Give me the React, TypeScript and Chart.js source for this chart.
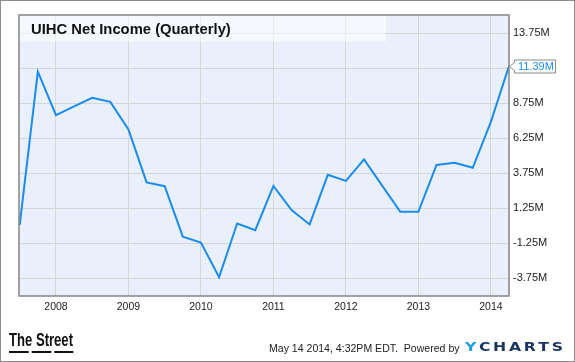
import React, { useEffect, useRef } from 'react';
import { Chart, registerables } from 'chart.js';

Chart.register(...registerables);

// ---- data ----
const quarterEnds = [
  2007.5, 2007.75, 2008.0, 2008.25, 2008.5, 2008.75, 2009.0, 2009.25, 2009.5, 2009.75,
  2010.0, 2010.25, 2010.5, 2010.75, 2011.0, 2011.25, 2011.5, 2011.75, 2012.0, 2012.25,
  2012.5, 2012.75, 2013.0, 2013.25, 2013.5, 2013.75, 2014.0, 2014.25,
];
const netIncomeM = [
  0.05, 11.0, 7.89, 8.51, 9.13, 8.84, 6.87, 3.09, 2.82, -0.78,
  -1.2, -3.68, 0.16, -0.32, 2.84, 1.11, 0.09, 3.63, 3.2, 4.73,
  2.86, 0.99, 0.99, 4.34, 4.49, 4.13, 7.41, 11.39,
];
const yearTicks = [2008, 2009, 2010, 2011, 2012, 2013, 2014];
const yearLabels = ['2008', '2009', '2010', '2011', '2012', '2013', '2014'];
const yTickValues = [-3.75, -1.25, 1.25, 3.75, 6.25, 8.75, 11.25, 13.75];
const yTickLabels = ['-3.75M', '-1.25M', '1.25M', '3.75M', '6.25M', '8.75M', '', '13.75M'];
const chartTitle = 'UIHC Net Income (Quarterly)';
const lastValueLabel = '11.39M';
const sourceText = 'The Street';
const footerText = 'May 14 2014, 4:32PM EDT.  Powered by';
const brandFirst = 'Y';
const brandRest = 'CHARTS';

const W = 575;
const H = 362;
const LINE_COLOR = '#1a8cf0';
const FONT = '"Liberation Sans", Arial, sans-serif';

const decorPlugin = {
  id: 'decor',
  beforeDraw(chart: any) {
    const { ctx, chartArea: a } = chart;
    ctx.save();
    ctx.fillStyle = '#ffffff';
    ctx.fillRect(0, 0, W, H);
    ctx.fillStyle = '#e9f0fb';
    ctx.fillRect(a.left, a.top, a.right - a.left, a.bottom - a.top);
    ctx.restore();
  },
  beforeDatasetsDraw(chart: any) {
    const { ctx, chartArea: a } = chart;
    ctx.save();
    // title backdrop
    ctx.fillStyle = 'rgba(255,255,255,0.55)';
    ctx.fillRect(a.left, a.top, 386 - a.left, 41.7 - a.top);
    ctx.fillStyle = '#111111';
    ctx.font = `bold 14.8px ${FONT}`;
    ctx.textBaseline = 'alphabetic';
    ctx.textAlign = 'left';
    ctx.fillText(chartTitle, 31, 34);
    ctx.restore();
  },
  afterDraw(chart: any) {
    const { ctx, chartArea: a } = chart;
    const ys = chart.scales.y;
    ctx.save();
    // plot border
    ctx.strokeStyle = '#858585';
    ctx.lineWidth = 1.5;
    ctx.strokeRect(a.left, a.top, a.right - a.left, a.bottom - a.top);

    // last value callout
    const lastV = netIncomeM[netIncomeM.length - 1];
    const py = Math.round(ys.getPixelForValue(lastV)) + 0.5;
    const bx = a.right + 5.5;
    const bw = 41;
    const bh = 13;
    ctx.beginPath();
    ctx.moveTo(a.right + 0.5, py);
    ctx.lineTo(bx, py - 4);
    ctx.lineTo(bx, py - bh / 2);
    ctx.lineTo(bx + bw, py - bh / 2);
    ctx.lineTo(bx + bw, py + bh / 2);
    ctx.lineTo(bx, py + bh / 2);
    ctx.lineTo(bx, py + 4);
    ctx.closePath();
    ctx.fillStyle = '#ffffff';
    ctx.fill();
    ctx.strokeStyle = '#8a8a8a';
    ctx.lineWidth = 1;
    ctx.stroke();
    ctx.fillStyle = LINE_COLOR;
    ctx.font = `11px ${FONT}`;
    ctx.textBaseline = 'middle';
    ctx.textAlign = 'left';
    ctx.fillText(lastValueLabel, bx + 3.5, py + 0.5);

    // footer: source logo
    ctx.fillStyle = '#111111';
    ctx.font = `bold 19px "Liberation Sans Narrow", ${FONT}`;
    ctx.textBaseline = 'alphabetic';
    const sw = ctx.measureText(sourceText).width;
    ctx.save();
    ctx.translate(9, 346);
    ctx.scale(64 / sw, 1);
    ctx.fillText(sourceText, 0, 0);
    ctx.restore();
    ctx.fillRect(9, 351, 19.7, 2);
    ctx.fillRect(31.7, 351, 19.6, 2);
    ctx.fillRect(54.3, 351, 19, 2);

    // footer: date / powered by
    ctx.fillStyle = '#222222';
    ctx.font = `10px ${FONT}`;
    const fw = ctx.measureText(footerText).width;
    const fs = (10 * 190.7) / fw;
    ctx.font = `${fs.toFixed(2)}px ${FONT}`;
    ctx.fillText(footerText, 269, 352);

    // footer: YCHARTS brand (wide, heavy letters)
    ctx.font = `bold 13px "DejaVu Sans", ${FONT}`;
    const letters = (brandFirst + brandRest).split('');
    const widths = letters.map((c) => ctx.measureText(c).width);
    const total = widths.reduce((s, v) => s + v, 0);
    const gap = 2.6;
    const sx = (98 - gap * (letters.length - 1)) / total;
    let x = 465;
    letters.forEach((c, i) => {
      ctx.fillStyle = i === 0 ? '#1e9fe3' : '#1b3563';
      ctx.save();
      ctx.translate(x, 351);
      ctx.scale(sx, 1);
      ctx.fillText(c, 0, 0);
      ctx.restore();
      x += widths[i] * sx + gap;
    });

    // outer frame
    ctx.strokeStyle = '#8c8c8c';
    ctx.lineWidth = 1;
    ctx.strokeRect(0.5, 0.5, W - 1, H - 1);
    ctx.restore();
  },
};

export default function App() {
  const ref = useRef<HTMLCanvasElement | null>(null);

  useEffect(() => {
    if (!ref.current) return;
    const chart = new Chart(ref.current, {
      type: 'line',
      data: {
        datasets: [
          {
            data: quarterEnds.map((q, i) => ({ x: q, y: netIncomeM[i] })),
            borderColor: LINE_COLOR,
            borderWidth: 2,
            pointRadius: 0,
            tension: 0,
            fill: false,
          },
        ],
      },
      options: {
        animation: false,
        responsive: false,
        devicePixelRatio: 1,
        layout: { padding: { left: 19, top: 15, right: 0, bottom: 0 } },
        plugins: { legend: { display: false }, tooltip: { enabled: false }, title: { display: false } },
        scales: {
          x: {
            type: 'linear',
            min: 2007.49,
            max: 2014.25,
            afterBuildTicks: (s: any) => {
              s.ticks = yearTicks.map((v) => ({ value: v }));
            },
            afterFit: (s: any) => {
              s.height = 66;
            },
            grid: { color: '#d6d6d6', lineWidth: 1, drawTicks: false },
            border: { display: false },
            ticks: {
              padding: 5,
              color: '#222222',
              font: { family: FONT, size: 10.5 },
              maxRotation: 0,
              autoSkip: false,
              callback: (v: any) => {
                const i = yearTicks.indexOf(Number(v));
                return i >= 0 ? yearLabels[i] : '';
              },
            },
          },
          y: {
            type: 'linear',
            position: 'right',
            min: -5.02,
            max: 15.04,
            afterBuildTicks: (s: any) => {
              s.ticks = yTickValues.map((v) => ({ value: v }));
            },
            afterFit: (s: any) => {
              s.width = 66;
            },
            grid: { color: '#d6d6d6', lineWidth: 1, drawTicks: false },
            border: { display: false },
            ticks: {
              padding: 4,
              color: '#222222',
              font: { family: FONT, size: 11 },
              autoSkip: false,
              callback: (v: any) => {
                const i = yTickValues.indexOf(Number(v));
                return i >= 0 ? yTickLabels[i] : '';
              },
            },
          },
        },
      },
      plugins: [decorPlugin],
    });
    return () => chart.destroy();
  }, []);

  return (
    <div style={{ position: 'absolute', left: 0, top: 0, width: W, height: H }}>
      <canvas ref={ref} width={W} height={H} style={{ width: W, height: H, display: 'block' }} />
    </div>
  );
}
